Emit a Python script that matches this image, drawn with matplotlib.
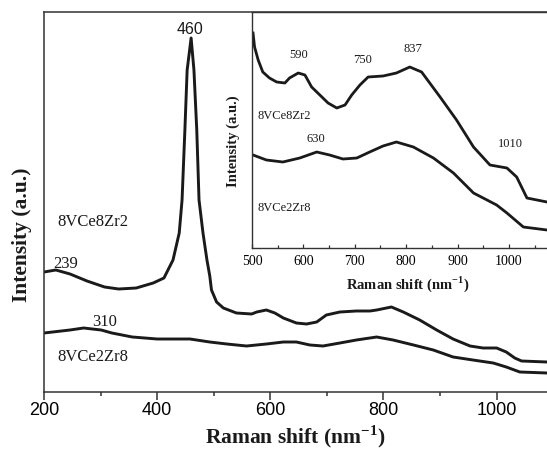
import matplotlib
matplotlib.use("Agg")
import matplotlib.pyplot as plt

# main spectra (Raman shift, intensity in arbitrary units)
shift_ce8 = [200, 221, 246, 276, 307, 332, 363, 393, 412, 428, 439, 444, 449, 453, 460,
             465, 470, 474, 481, 488, 493, 496, 505, 517, 540, 567, 576, 593, 608, 623,
             646, 664, 682, 699, 723, 752, 776, 788, 814, 835, 864, 894, 923, 953, 976,
             1000, 1017, 1032, 1044, 1089]
int_ce8 = [120, 122, 118, 111, 105, 103, 104, 109, 114, 132, 159, 192, 262, 322, 354,
           322, 262, 192, 159, 132, 116, 102, 90, 84, 79, 78, 80, 82, 79, 74,
           69, 68, 70, 77, 80, 81, 81, 82, 85, 80, 72, 62, 53, 46, 44,
           44, 40, 34, 31, 30]

shift_ce2 = [200, 246, 270, 301, 320, 356, 400, 458, 493, 523, 558, 593, 623, 646,
             670, 693, 723, 752, 788, 817, 853, 888, 923, 958, 994, 1017, 1041, 1089]
int_ce2 = [59, 62, 64, 62, 59, 55, 53, 53, 50, 48, 46, 48, 50, 50,
           47, 46, 49, 52, 55, 52, 47, 42, 35, 32, 29, 25, 20, 19]

# inset spectra
ins_shift_ce8 = [502, 505, 512, 521, 534, 548, 564, 573, 590, 603, 616, 632, 648, 665,
                 681, 694, 710, 726, 755, 781, 807, 830, 866, 898, 931, 963, 996, 1015,
                 1035, 1074]
ins_int_ce8 = [215, 201, 188, 176, 170, 166, 165, 170, 175, 173, 161, 153, 145, 140,
               143, 153, 163, 171, 172, 175, 181, 176, 151, 128, 101, 83, 80, 71,
               50, 46]

ins_shift_ce2 = [502, 528, 560, 593, 626, 651, 677, 704, 729, 755, 781, 814, 853, 892,
                 931, 976, 996, 1028, 1074]
ins_int_ce2 = [93, 88, 86, 90, 96, 93, 89, 90, 96, 102, 106, 101, 90, 75,
               55, 43, 35, 21, 18]

SERIF = "Liberation Serif"
SANS = "Liberation Sans"
LINE = "#1a1a1a"
AX = "#333333"

fig = plt.figure(figsize=(5.47, 4.54), dpi=100)

ax = fig.add_axes([44/547, 62/454, 503/547, 380/454])
ax.plot(shift_ce8, int_ce8, color=LINE, lw=2.1)
ax.plot(shift_ce2, int_ce2, color=LINE, lw=2.1)
ax.set_xlim(200, 1089)
ax.set_ylim(0, 380)
ax.set_yticks([])
ax.set_xticks([200, 400, 600, 800, 1000])
ax.set_xticks(range(300, 1089, 200), minor=True)
ax.tick_params(axis="x", which="major", direction="out", length=5.5, width=1.1,
               color=AX, labelsize=13, pad=2)
ax.tick_params(axis="x", which="minor", direction="out", length=3, width=1.1, color=AX)
for lab in ax.get_xticklabels():
    lab.set_fontfamily(SANS)
ax.spines["right"].set_visible(False)
for s in ["left", "top", "bottom"]:
    ax.spines[s].set_color(AX)
    ax.spines[s].set_linewidth(1.1)

ax.text(458, 362, "460", family=SANS, fontsize=11.5, ha="center", va="center", color=LINE)
ax.text(223, 170, "8VCe8Zr2", family=SERIF, fontsize=12, ha="left", va="center", color=LINE)
ax.text(239, 128, "239", family=SERIF, fontsize=12, ha="center", va="center", color=LINE)
ax.text(308, 70, "310", family=SERIF, fontsize=12, ha="center", va="center", color=LINE)
ax.text(224, 35, "8VCe2Zr8", family=SERIF, fontsize=12, ha="left", va="center", color=LINE)

fig.text(22/547, 1 - 235/454, "Intensity (a.u.)", family=SERIF, fontweight="bold",
         fontsize=15.5, rotation=90, ha="center", va="center", color=LINE)
fig.text(295/547, 1 - 437/454, r"Raman shift (nm$^{\mathregular{-1}}$)", family=SERIF,
         fontweight="bold", fontsize=15.5, ha="center", va="center", color=LINE)

# inset
ins = fig.add_axes([252/547, 206/454, 295/547, 236/454])
ins.plot(ins_shift_ce8, ins_int_ce8, color=LINE, lw=2.0)
ins.plot(ins_shift_ce2, ins_int_ce2, color=LINE, lw=2.0)
ins.set_xlim(500, 1074)
ins.set_ylim(0, 236)
ins.set_yticks([])
ins.set_xticks([500, 600, 700, 800, 900, 1000])
ins.set_xticks(range(550, 1074, 100), minor=True)
ins.tick_params(axis="x", which="major", direction="in", length=3, width=0.9,
                color=AX, labelsize=10, pad=5)
ins.tick_params(axis="x", which="minor", direction="in", length=2.5, width=0.9, color=AX)
for lab in ins.get_xticklabels():
    lab.set_fontfamily(SERIF)
ins.spines["right"].set_visible(False)
for s in ["left", "top", "bottom"]:
    ins.spines[s].set_color(AX)
    ins.spines[s].set_linewidth(1.0)

ins.text(591, 193, "590", family=SERIF, fontsize=9, ha="center", va="center", color=LINE)
ins.text(716, 188, "750", family=SERIF, fontsize=9, ha="center", va="center", color=LINE)
ins.text(814, 199, "837", family=SERIF, fontsize=9, ha="center", va="center", color=LINE)
ins.text(1002, 104, "1010", family=SERIF, fontsize=9, ha="center", va="center", color=LINE)
ins.text(624, 109, "630", family=SERIF, fontsize=9, ha="center", va="center", color=LINE)
ins.text(511, 132, "8VCe8Zr2", family=SERIF, fontsize=9, ha="left", va="center", color=LINE)
ins.text(511, 40, "8VCe2Zr8", family=SERIF, fontsize=9, ha="left", va="center", color=LINE)

fig.text(233/547, 1 - 141/454, "Intensity (a.u.)", family=SERIF, fontweight="bold",
         fontsize=10.5, rotation=90, ha="center", va="center", color=LINE)
fig.text(408/547, 1 - 284/454, r"Raman shift (nm$^{\mathregular{-1}}$)", family=SERIF,
         fontweight="bold", fontsize=10.5, ha="center", va="center", color=LINE)

fig.savefig("out.png", dpi=100)
